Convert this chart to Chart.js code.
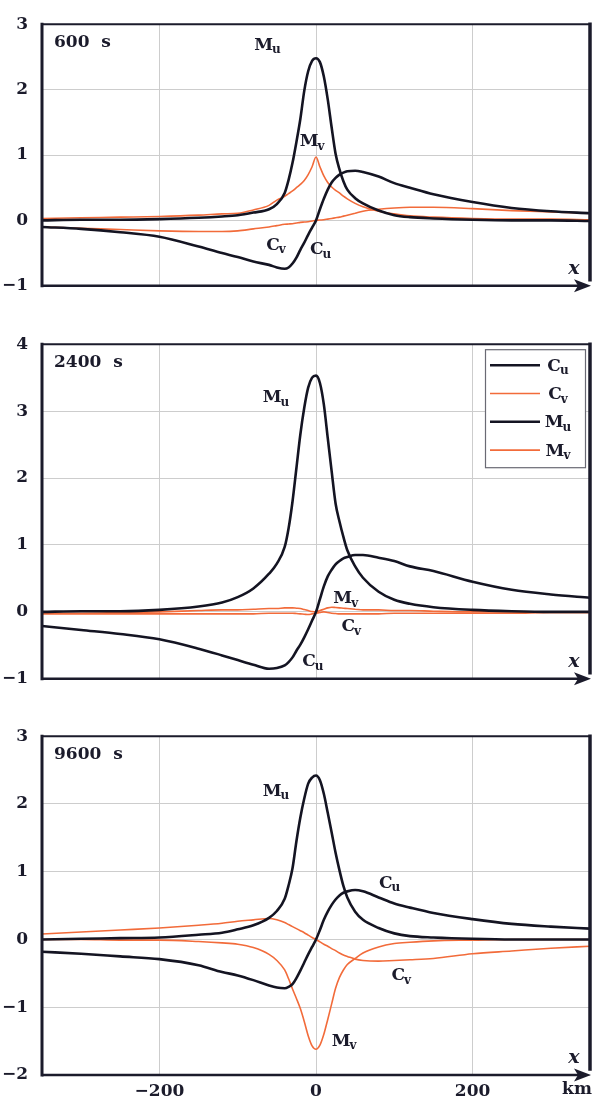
<!DOCTYPE html>
<html>
<head>
<meta charset="utf-8">
<script src="https://cdn.jsdelivr.net/npm/chart.js@4"></script>
<style>
  html, body { margin: 0; padding: 0; background: #ffffff; }
  body { width: 594px; height: 1104px; position: relative; overflow: hidden; }
  canvas { position: absolute; left: 0; }
</style>
</head>
<body>
<canvas id="p600" width="594" height="310" style="top:0px"></canvas>
<canvas id="p2400" width="594" height="383" style="top:320px"></canvas>
<canvas id="p9600" width="594" height="392" style="top:712px"></canvas>
<script>
// Distance along the section, km
const xKm = [-350, -300, -250, -200, -150, -120, -100, -80, -60, -50, -40,
             -35, -30, -25, -20, -15, -10, -5, 0, 5, 10, 15, 20, 25, 30, 35, 40,
             50, 60, 80, 100, 120, 150, 200, 250, 300, 350];

// t = 600 s
const cu600 = [-0.10, -0.13, -0.18, -0.25, -0.40, -0.50, -0.56, -0.63, -0.68, -0.72, -0.74,
               -0.72, -0.66, -0.57, -0.45, -0.34, -0.22, -0.11, 0.00, 0.17, 0.33, 0.47, 0.58, 0.65, 0.70, 0.73, 0.75,
               0.76, 0.74, 0.67, 0.57, 0.50, 0.40, 0.28, 0.19, 0.14, 0.11];
const cv600 = [-0.10, -0.12, -0.14, -0.16, -0.17, -0.17, -0.16, -0.13, -0.10, -0.08, -0.06,
               -0.055, -0.05, -0.04, -0.03, -0.025, -0.02, -0.01, 0.00, 0.005, 0.01, 0.02, 0.03, 0.04, 0.05, 0.065, 0.08,
               0.11, 0.14, 0.17, 0.19, 0.20, 0.20, 0.18, 0.15, 0.13, 0.11];
const mu600 = [0.00, 0.01, 0.01, 0.02, 0.04, 0.06, 0.08, 0.12, 0.17, 0.25, 0.42,
               0.62, 0.88, 1.20, 1.55, 1.98, 2.28, 2.44, 2.48, 2.42, 2.20, 1.85, 1.42, 1.02, 0.78, 0.60, 0.47,
               0.34, 0.26, 0.15, 0.08, 0.05, 0.03, 0.01, 0.00, 0.00, -0.01];
const mv600 = [0.03, 0.04, 0.05, 0.06, 0.08, 0.10, 0.11, 0.16, 0.23, 0.31, 0.37,
               0.41, 0.45, 0.50, 0.55, 0.61, 0.70, 0.82, 0.97, 0.82, 0.68, 0.58, 0.51, 0.46, 0.42, 0.37, 0.33,
               0.26, 0.21, 0.14, 0.10, 0.07, 0.05, 0.03, 0.02, 0.02, 0.01];

// t = 2400 s
const cu2400 = [-0.21, -0.27, -0.33, -0.41, -0.55, -0.65, -0.72, -0.79, -0.85, -0.84, -0.80,
                -0.75, -0.68, -0.58, -0.49, -0.38, -0.26, -0.13, 0.00, 0.19, 0.38, 0.53, 0.63, 0.71, 0.76, 0.80, 0.82,
                0.85, 0.85, 0.81, 0.76, 0.68, 0.61, 0.45, 0.33, 0.26, 0.21];
const cv2400 = [-0.03, -0.03, -0.03, -0.03, -0.03, -0.03, -0.03, -0.03, -0.02, -0.02, -0.02,
                -0.02, -0.02, -0.025, -0.03, -0.035, -0.04, -0.03, -0.02, -0.01, 0.00, -0.01, -0.02, -0.025, -0.03, -0.03, -0.03,
                -0.03, -0.03, -0.03, -0.02, -0.02, -0.02, -0.02, -0.02, -0.01, -0.01];
const mu2400 = [0.00, 0.01, 0.01, 0.03, 0.08, 0.14, 0.22, 0.35, 0.57, 0.72, 0.97,
                1.25, 1.65, 2.15, 2.65, 3.05, 3.35, 3.50, 3.53, 3.42, 3.10, 2.60, 2.10, 1.62, 1.35, 1.12, 0.92,
                0.68, 0.51, 0.30, 0.18, 0.12, 0.07, 0.03, 0.01, 0.00, 0.00];
const mv2400 = [-0.02, -0.02, -0.01, 0.00, 0.02, 0.03, 0.03, 0.04, 0.05, 0.05, 0.06,
                0.06, 0.06, 0.055, 0.05, 0.035, 0.02, 0.005, 0.00, 0.02, 0.04, 0.06, 0.07, 0.065, 0.06, 0.055, 0.05,
                0.04, 0.03, 0.03, 0.02, 0.02, 0.01, 0.00, 0.00, -0.01, -0.01];

// t = 9600 s
const cu9600 = [-0.18, -0.21, -0.25, -0.29, -0.38, -0.48, -0.53, -0.60, -0.68, -0.71, -0.72,
                -0.70, -0.66, -0.57, -0.46, -0.34, -0.22, -0.11, 0.00, 0.14, 0.29, 0.41, 0.51, 0.59, 0.65, 0.69, 0.71,
                0.73, 0.71, 0.62, 0.53, 0.47, 0.39, 0.30, 0.23, 0.19, 0.16];
const cv9600 = [0.08, 0.11, 0.14, 0.17, 0.21, 0.24, 0.27, 0.29, 0.31, 0.29, 0.25,
                0.22, 0.19, 0.16, 0.13, 0.10, 0.065, 0.03, 0.00, -0.035, -0.07, -0.10, -0.135, -0.165, -0.20, -0.23, -0.25,
                -0.29, -0.31, -0.32, -0.31, -0.30, -0.28, -0.21, -0.17, -0.13, -0.10];
const mu9600 = [0.00, 0.01, 0.02, 0.03, 0.07, 0.10, 0.15, 0.21, 0.32, 0.42, 0.60,
                0.80, 1.05, 1.45, 1.80, 2.08, 2.30, 2.39, 2.42, 2.35, 2.15, 1.87, 1.58, 1.28, 1.02, 0.79, 0.62,
                0.41, 0.29, 0.17, 0.09, 0.05, 0.03, 0.01, 0.00, 0.00, 0.00];
const mv9600 = [0.00, 0.00, -0.01, -0.01, -0.03, -0.05, -0.07, -0.12, -0.22, -0.31, -0.45,
                -0.58, -0.73, -0.87, -1.02, -1.21, -1.42, -1.57, -1.62, -1.56, -1.40, -1.18, -0.95, -0.72, -0.56, -0.45, -0.37,
                -0.28, -0.20, -0.11, -0.06, -0.04, -0.02, -0.01, 0.00, 0.00, 0.00];

// Axis ticks
const xTicks = [-200, 0, 200];
const xUnit = 'km';

const SERIF = '"DejaVu Serif", "Liberation Serif", serif';
const INK = '#1b1b2b';
const BLACK_LINE = '#141422';
const ORANGE_LINE = '#f26b3a';
const GRID = '#cdcdcd';

function minusSign(v) { return String(v).replace('-', '\u2212'); }

function series(values) { return xKm.map((x, i) => ({ x: x, y: values[i] })); }

function lineSet(label, values, dark) {
  return {
    label: label,
    data: series(values),
    borderColor: dark ? BLACK_LINE : ORANGE_LINE,
    borderWidth: dark ? 2.6 : 1.6,
    pointRadius: 0,
    cubicInterpolationMode: 'monotone',
    fill: false,
    order: dark ? 0 : 1
  };
}

// Draws a symbol like M with a subscript, centred on (cx, cy)
function subText(ctx, main, sub, cx, cy, size) {
  const big = 'bold ' + size + 'px ' + SERIF;
  const small = 'bold ' + Math.round(size * 0.72) + 'px ' + SERIF;
  ctx.font = big;
  const wm = ctx.measureText(main).width;
  ctx.font = small;
  const ws = ctx.measureText(sub).width;
  const left = cx - (wm + ws - 1) / 2;
  ctx.fillStyle = INK;
  ctx.textBaseline = 'middle';
  ctx.textAlign = 'left';
  ctx.font = big;
  ctx.fillText(main, left, cy);
  ctx.font = small;
  ctx.fillText(sub, left + wm - 1, cy + 5);
}

const decor = {
  id: 'decor',
  afterDraw(chart, args, o) {
    const ctx = chart.ctx;
    const a = chart.chartArea;
    const sx = chart.scales.x, sy = chart.scales.y;
    ctx.save();
    // frame: top, left, right
    ctx.strokeStyle = INK;
    ctx.lineCap = 'square';
    ctx.lineWidth = 2;
    ctx.beginPath(); ctx.moveTo(a.left, a.top); ctx.lineTo(a.right, a.top); ctx.stroke();
    ctx.lineWidth = 3;
    ctx.beginPath(); ctx.moveTo(a.left, a.top); ctx.lineTo(a.left, a.bottom); ctx.stroke();
    ctx.lineWidth = 3.5;
    ctx.beginPath(); ctx.moveTo(a.right, a.top); ctx.lineTo(a.right, a.bottom - 6); ctx.stroke();
    // x axis arrow
    ctx.lineWidth = 2.5;
    ctx.lineCap = 'butt';
    ctx.beginPath(); ctx.moveTo(a.left, a.bottom); ctx.lineTo(a.right - 6, a.bottom); ctx.stroke();
    ctx.fillStyle = INK;
    ctx.beginPath();
    ctx.moveTo(a.right + 1, a.bottom);
    ctx.lineTo(a.right - 16, a.bottom - 6.5);
    ctx.lineTo(a.right - 12, a.bottom);
    ctx.lineTo(a.right - 16, a.bottom + 6.5);
    ctx.closePath();
    ctx.fill();
    ctx.font = 'italic bold 19px ' + SERIF;
    ctx.textAlign = 'center';
    ctx.textBaseline = 'middle';
    ctx.fillText('x', a.right - 16, a.bottom - 17);
    // panel time stamp
    ctx.font = 'bold 17px ' + SERIF;
    ctx.textAlign = 'left';
    ctx.fillText(o.title, a.left + 12, a.top + 18);
    // curve labels
    (o.labels || []).forEach(l => {
      subText(ctx, l.m, l.s, sx.getPixelForValue(l.x), sy.getPixelForValue(l.y), 17);
    });
    // unit on the x axis
    if (o.unit) {
      ctx.font = 'bold 17px ' + SERIF;
      ctx.textAlign = 'center';
      ctx.textBaseline = 'middle';
      ctx.fillStyle = INK;
      ctx.fillText(o.unit, a.right - 13, a.bottom + 15);
    }
    // legend
    if (o.legend) {
      const bx = a.right - 105, by = a.top + 5, bw = 100, bh = 118;
      ctx.fillStyle = '#ffffff';
      ctx.fillRect(bx, by, bw, bh);
      ctx.strokeStyle = '#6a6a74';
      ctx.lineWidth = 1.2;
      ctx.strokeRect(bx + 0.5, by + 0.5, bw, bh);
      chart.data.datasets.forEach((ds, i) => {
        const yy = by + 16 + i * 28.3;
        ctx.strokeStyle = ds.borderColor;
        ctx.lineWidth = ds.borderWidth;
        ctx.beginPath(); ctx.moveTo(bx + 5, yy); ctx.lineTo(bx + 55, yy); ctx.stroke();
        const t = ds.label;
        subText(ctx, t[0], t[1], bx + 73, yy + 1, 17);
      });
    }
    ctx.restore();
  }
};

function makePanel(id, p) {
  const font = { family: SERIF, size: 17, weight: 'bold' };
  return new Chart(document.getElementById(id), {
    type: 'line',
    data: {
      datasets: [
        lineSet('Cu', p.cu, true),
        lineSet('Cv', p.cv, false),
        lineSet('Mu', p.mu, true),
        lineSet('Mv', p.mv, false)
      ]
    },
    options: {
      responsive: false,
      animation: false,
      devicePixelRatio: 1,
      layout: { padding: { top: p.padTop, right: 4, left: 0, bottom: 0 } },
      plugins: {
        legend: { display: false },
        tooltip: { enabled: false },
        decor: { title: p.title, labels: p.labels, legend: p.legend, unit: p.unit }
      },
      scales: {
        x: {
          type: 'linear',
          min: -350, max: 350,
          afterBuildTicks: s => { s.ticks = xTicks.map(v => ({ value: v })); },
          afterFit: s => { s.height = p.xHeight; },
          grid: { color: GRID, lineWidth: 1, drawTicks: false },
          border: { display: false },
          ticks: { display: p.showX, font: font, color: INK, padding: 6, maxRotation: 0,
                   callback: v => minusSign(v) }
        },
        y: {
          min: p.ymin, max: p.ymax,
          afterFit: s => { s.width = 42; },
          grid: { color: GRID, lineWidth: 1, drawTicks: false },
          border: { display: false },
          ticks: { stepSize: 1, font: font, color: INK, padding: 14, callback: v => minusSign(v) }
        }
      }
    },
    plugins: [decor]
  });
}

makePanel('p600', {
  cu: cu600, cv: cv600, mu: mu600, mv: mv600,
  ymin: -1, ymax: 3, padTop: 14, xHeight: 23, showX: false,
  title: '600  s',
  labels: [
    { m: 'M', s: 'u', x: -62, y: 2.68 },
    { m: 'M', s: 'v', x: -5, y: 1.2 },
    { m: 'C', s: 'v', x: -51, y: -0.38 },
    { m: 'C', s: 'u', x: 6, y: -0.45 }
  ]
});

makePanel('p2400', {
  cu: cu2400, cv: cv2400, mu: mu2400, mv: mv2400,
  ymin: -1, ymax: 4, padTop: 18, xHeight: 23, showX: false,
  title: '2400  s', legend: true,
  labels: [
    { m: 'M', s: 'u', x: -51, y: 3.2 },
    { m: 'M', s: 'v', x: 38, y: 0.2 },
    { m: 'C', s: 'v', x: 45, y: -0.22 },
    { m: 'C', s: 'u', x: -4, y: -0.75 }
  ]
});

makePanel('p9600', {
  cu: cu9600, cv: cv9600, mu: mu9600, mv: mv9600,
  ymin: -2, ymax: 3, padTop: 20, xHeight: 29, showX: true,
  title: '9600  s', unit: xUnit,
  labels: [
    { m: 'M', s: 'u', x: -51, y: 2.19 },
    { m: 'C', s: 'u', x: 94, y: 0.83 },
    { m: 'C', s: 'v', x: 109, y: -0.53 },
    { m: 'M', s: 'v', x: 36, y: -1.5 }
  ]
});
</script>
</body>
</html>
